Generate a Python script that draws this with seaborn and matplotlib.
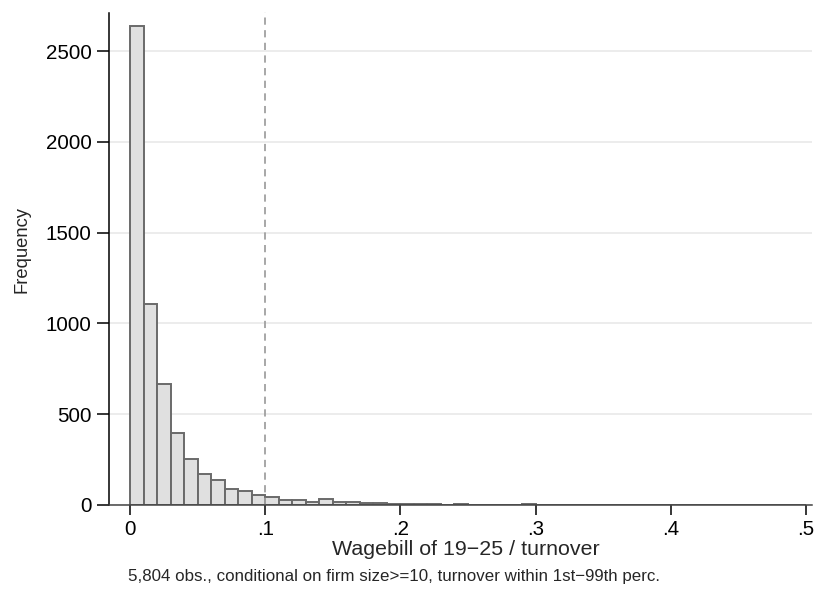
import numpy as np
import pandas as pd
import matplotlib
matplotlib.use("Agg")
import matplotlib.pyplot as plt
import seaborn as sns

# bin width 0.01, counts (bins 0.00-0.50)
bin_width = 0.01
counts = [2640, 1107, 667, 398, 255, 172, 138, 90, 78, 53,
          46, 26, 29, 17, 35, 15, 18, 11, 9, 5,
          4, 3, 3, 2, 3, 2, 1, 2, 2, 3,
          1, 2, 1, 0, 1, 0, 0, 1, 0, 1,
          0, 1, 0, 0, 0, 0, 1, 0, 0, 0]
centers = (np.arange(len(counts)) + 0.5) * bin_width
cutoff = 0.1

x_ticks = [0, 0.1, 0.2, 0.3, 0.4, 0.5]
x_tick_labels = ["0", ".1", ".2", ".3", ".4", ".5"]
y_ticks = [0, 500, 1000, 1500, 2000, 2500]

df = pd.DataFrame({"share": centers, "n": counts})

sns.set_theme(style="white")
plt.rcParams["font.family"] = ["Liberation Sans", "DejaVu Sans"]

fig = plt.figure(figsize=(8.27, 5.90), dpi=100)
ax = fig.add_axes([109 / 827, 85 / 590, 703 / 827, 492 / 590])

ax.set_axisbelow(True)
ax.yaxis.grid(True, color="#eaeaea", linewidth=1.3)
sns.histplot(data=df, x="share", weights="n", binwidth=bin_width,
             binrange=(0, len(counts) * bin_width), ax=ax,
             color="#e0e0e0", edgecolor="#6a6a6a", linewidth=1.4, alpha=1)
ax.axvline(cutoff, ymax=1.003, color="#a0a0a0", linestyle=(0, (4, 3)),
           linewidth=1.3, clip_on=False)

ax.set_xlim(-0.0156, 0.5045)
ax.set_ylim(0, 2710)
ax.set_xticks(x_ticks)
ax.set_xticklabels(x_tick_labels)
ax.set_yticks(y_ticks)
ax.tick_params(axis="both", labelsize=14.8, colors="black", direction="out",
               length=7, width=1.1, bottom=True, left=True)
ax.tick_params(axis="y", length=9)

for side in ["top", "right"]:
    ax.spines[side].set_visible(False)
for side in ["left", "bottom"]:
    ax.spines[side].set_color("black")
    ax.spines[side].set_linewidth(1.1)
ax.spines["bottom"].set_color("#444444")

ax.set_xlabel("Wagebill of 19\u221225 / turnover", fontsize=15.4, labelpad=4)
ax.xaxis.set_label_coords(0.5075, -0.072)
ax.set_ylabel("Frequency", fontsize=13.2)
ax.yaxis.set_label_coords(-0.112, 0.52)

fig.text(128 / 827, 1 - 577 / 590,
         "5,804 obs., conditional on firm size>=10, turnover within 1st\u221299th perc.",
         fontsize=12.2, va="center", ha="left")

fig.savefig("out.png", dpi=100)
